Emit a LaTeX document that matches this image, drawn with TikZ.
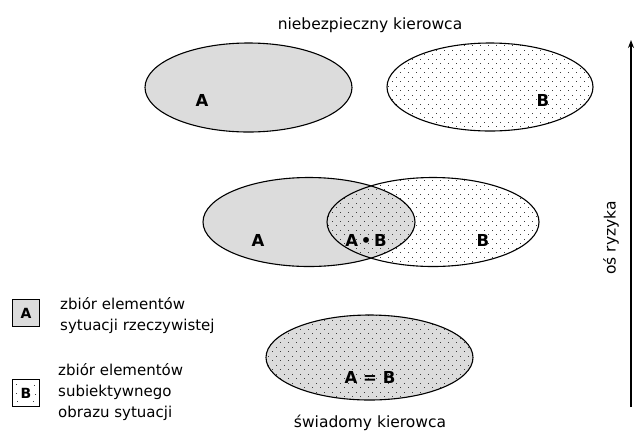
\documentclass[tikz,border=0pt]{standalone}
\usepackage{fontspec}
\setmainfont{DejaVu Sans}
\usetikzlibrary{arrows.meta}
\definecolor{setgray}{RGB}{220,220,220}
\definecolor{dotc}{RGB}{60,60,60}
% staggered dot raster clipped to an ellipse (centre x, centre y, x radius, y radius)
\newcommand\dotraster[4]{%
  \begin{scope}
    \clip (#1,#2) ellipse [x radius=#3pt, y radius=#4pt];
    \pgfmathsetmacro\xs{8*floor((#1-#3)/8)}
    \pgfmathsetmacro\ys{9*floor((#2-#4)/9)}
    \foreach \r in {0,...,23} {
      \pgfmathsetmacro\yy{\ys+\r*4.5}
      \pgfmathsetmacro\off{mod(\r,2)*4}
      \foreach \c in {0,...,28} {
        \fill[dotc] ({\xs+\off+\c*8},\yy) rectangle ++(1.1,1.1);
      }
    }
  \end{scope}}
\begin{document}
\begin{tikzpicture}[x=1pt,y=-1pt,
  outline/.style={draw=black, line width=1.1pt},
  setlabel/.style={font=\fontsize{16.5}{18}\selectfont\bfseries, inner sep=0pt, anchor=base},
  caption/.style={font=\fontsize{15.5}{18}\selectfont, inner sep=0pt, anchor=base},
  legtext/.style={font=\fontsize{15}{21}\selectfont, inner sep=0pt, anchor=base west, align=left},
  legbox/.style={draw=black, line width=0.9pt, minimum width=27pt, minimum height=27pt, inner sep=0pt,
    font=\fontsize{14}{15}\selectfont\bfseries}]
\useasboundingbox (0,0) rectangle (637,432);

% headline
\node[caption] (top) at (370,29) {niebezpieczny kierowca};

% upper pair: real situation and subjective image, disjoint
\fill[setgray] (248.5,87.5) ellipse [x radius=103.5pt, y radius=44.5pt];
\draw[outline] (248.5,87.5) ellipse [x radius=103.5pt, y radius=44.5pt];
\dotraster{490}{87}{103}{44}
\draw[outline] (490,87) ellipse [x radius=103pt, y radius=44pt];
\node[setlabel] (a1) at (202,106) {A};
\node[setlabel] (b1) at (543,106) {B};

% middle pair: partial overlap
\fill[setgray] (309,222) ellipse [x radius=106pt, y radius=44.5pt];
\dotraster{433}{222}{106}{44.5}
\draw[outline] (309,222) ellipse [x radius=106pt, y radius=44.5pt];
\draw[outline] (433,222) ellipse [x radius=106pt, y radius=44.5pt];
\node[setlabel] (a2) at (258,246) {A};
\node[setlabel] (ab) at (366,246) {A\,•\,B};
\node[setlabel] (b2) at (483,246) {B};

% lower set: both coincide
\fill[setgray] (369.5,357.5) ellipse [x radius=103.5pt, y radius=42.5pt];
\dotraster{369.5}{357.5}{103.5}{42.5}
\draw[outline] (369.5,357.5) ellipse [x radius=103.5pt, y radius=42.5pt];
\node[setlabel] (aeqb) at (370,383) {A = B};
\node[caption] (bottom) at (370,427) {świadomy kierowca};

% risk axis
\coordinate (axbot) at (631,407);
\coordinate (axtop) at (631,40);
\draw[line width=1.6pt, -{Stealth[length=8pt, width=6pt]}] (axbot) -- (axtop);
\node[caption, anchor=center, rotate=90] (axis) at (611,238) {oś ryzyka};

% legend (the base anchor of a multi-line node sits on its last line)
\node[legbox, fill=setgray] (keyA) at (26,313) {A};
\node[legtext] (txtA) at (60,330) {zbiór elementów\\sytuacji rzeczywistej};
\node[legbox, fill=white] (keyB) at (26,393) {B};
\begin{scope}
  \clip (13,380) rectangle (39,406);
  \foreach \p in {(16,384),(34,385),(17,401),(33,401),(16,393),(35,394)}
    \fill[dotc] \p rectangle ++(1.1,1.1);
\end{scope}
\node[legtext] (txtB) at (58,417) {zbiór elementów\\subiektywnego\\obrazu sytuacji};
\end{tikzpicture}
\end{document}
